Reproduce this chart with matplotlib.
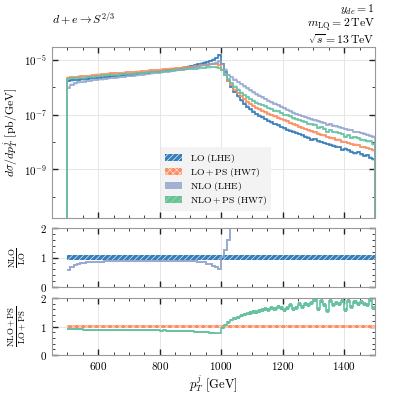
import numpy as np
import matplotlib
matplotlib.use("Agg")
import matplotlib.pyplot as plt
from matplotlib.patches import Patch
from matplotlib.ticker import MultipleLocator, FixedLocator, NullFormatter, LogFormatterMathtext

plt.rcParams.update({
    'font.family': 'serif',
    'font.serif': ['cmr10', 'DejaVu Serif'],
    'mathtext.fontset': 'cm',
    'axes.formatter.use_mathtext': True,
    'hatch.linewidth': 0.5,
})

# ---------------- data (log10 of dsigma/dpT in pb/GeV, 10 GeV bins) ----------------
bin_edges = np.arange(500, 1501, 10)

lo_lhe_log10 = [
    -5.76, -5.74, -5.73, -5.72, -5.71, -5.70, -5.68, -5.67, -5.66, -5.65,
    -5.64, -5.63, -5.62, -5.61, -5.60, -5.585, -5.57, -5.56, -5.55, -5.54,
    -5.53, -5.52, -5.51, -5.49, -5.48, -5.47, -5.46, -5.44, -5.43, -5.42,
    -5.40, -5.39, -5.37, -5.36, -5.34, -5.33, -5.31, -5.29, -5.27, -5.24,
    -5.22, -5.19, -5.16, -5.13, -5.10, -5.07, -5.03, -4.99, -4.93, -4.83,
    -5.15, -5.45, -5.75, -5.98, -6.17, -6.33, -6.48, -6.60, -6.71, -6.80,
    -6.89, -6.97, -7.04, -7.10, -7.16, -7.22, -7.28, -7.34, -7.39, -7.45,
    -7.50, -7.55, -7.58, -7.62, -7.66, -7.71, -7.75, -7.80, -7.84, -7.92,
    -7.90, -7.97, -8.00, -8.04, -8.07, -8.10, -8.14, -8.17, -8.18, -8.28,
    -8.24, -8.31, -8.35, -8.42, -8.37, -8.45, -8.50, -8.49, -8.58, -8.64]

lo_ps_log10 = [
    -5.64, -5.63, -5.62, -5.61, -5.60, -5.59, -5.58, -5.57, -5.56, -5.54,
    -5.53, -5.52, -5.51, -5.50, -5.49, -5.485, -5.48, -5.47, -5.46, -5.455,
    -5.45, -5.44, -5.43, -5.42, -5.41, -5.40, -5.39, -5.38, -5.37, -5.36,
    -5.35, -5.34, -5.33, -5.32, -5.31, -5.30, -5.29, -5.28, -5.26, -5.25,
    -5.24, -5.22, -5.21, -5.20, -5.18, -5.17, -5.16, -5.15, -5.15, -5.17,
    -5.35, -5.55, -5.75, -5.93, -6.08, -6.21, -6.33, -6.43, -6.52, -6.60,
    -6.67, -6.74, -6.80, -6.85, -6.91, -6.96, -7.01, -7.06, -7.11, -7.16,
    -7.21, -7.25, -7.30, -7.35, -7.39, -7.44, -7.48, -7.52, -7.57, -7.61,
    -7.65, -7.69, -7.73, -7.75, -7.82, -7.84, -7.87, -7.91, -7.92, -7.99,
    -8.00, -8.04, -8.07, -8.10, -8.11, -8.18, -8.19, -8.22, -8.26, -8.30]

nlo_lhe_log10 = [
    -6.01, -5.90, -5.85, -5.82, -5.80, -5.79, -5.76, -5.75, -5.73, -5.72,
    -5.71, -5.70, -5.68, -5.67, -5.66, -5.64, -5.63, -5.62, -5.61, -5.59,
    -5.58, -5.57, -5.56, -5.54, -5.53, -5.52, -5.51, -5.49, -5.48, -5.47,
    -5.45, -5.44, -5.42, -5.41, -5.39, -5.38, -5.36, -5.34, -5.32, -5.30,
    -5.28, -5.25, -5.23, -5.20, -5.18, -5.17, -5.14, -5.13, -5.10, -5.05,
    -5.14, -5.35, -5.55, -5.62, -5.72, -5.80, -5.88, -5.96, -6.04, -6.11,
    -6.18, -6.25, -6.31, -6.37, -6.43, -6.49, -6.55, -6.60, -6.66, -6.71,
    -6.77, -6.82, -6.88, -6.93, -6.97, -7.01, -7.05, -7.09, -7.13, -7.17,
    -7.21, -7.25, -7.28, -7.31, -7.36, -7.35, -7.40, -7.43, -7.46, -7.49,
    -7.52, -7.55, -7.56, -7.63, -7.64, -7.67, -7.70, -7.73, -7.77, -7.81]

nlo_ps_log10 = [
    -5.68, -5.67, -5.66, -5.65, -5.64, -5.64, -5.63, -5.62, -5.61, -5.59,
    -5.58, -5.57, -5.56, -5.55, -5.54, -5.54, -5.53, -5.52, -5.52, -5.51,
    -5.50, -5.50, -5.49, -5.48, -5.47, -5.46, -5.45, -5.44, -5.43, -5.42,
    -5.42, -5.40, -5.40, -5.39, -5.38, -5.37, -5.36, -5.36, -5.34, -5.33,
    -5.32, -5.31, -5.30, -5.29, -5.28, -5.27, -5.27, -5.26, -5.27, -5.29,
    -5.37, -5.53, -5.69, -5.84, -5.97, -6.09, -6.19, -6.28, -6.36, -6.43,
    -6.49, -6.56, -6.61, -6.65, -6.70, -6.76, -6.79, -6.85, -6.88, -6.94,
    -7.01, -7.03, -7.06, -7.14, -7.17, -7.19, -7.25, -7.27, -7.33, -7.35,
    -7.36, -7.48, -7.45, -7.51, -7.63, -7.56, -7.63, -7.65, -7.67, -7.71,
    -7.80, -7.76, -7.84, -7.83, -7.86, -7.91, -7.94, -7.98, -7.97, -8.08]

series_labels = ["LO (LHE)", "LO+PS (HW7)", "NLO (LHE)", "NLO+PS (HW7)"]
x_ticks = [600, 800, 1000, 1200, 1400]
ratio_ticks = [0, 1, 2]

# ---------------- style ----------------
C_LO = '#377eb8'
C_LOPS = '#fc8d62'
C_NLO = '#8da0cb'
C_NLOPS = '#66c2a5'
H_LO = '#e2eefa'
H_LOPS = '#ffe4d6'
H_NLOPS = '#b5dc5a'
LO_BAND = 0.07
NLOPS_BAND = 0.04

lo = 10.0 ** np.array(lo_lhe_log10)
lops = 10.0 ** np.array(lo_ps_log10)
nlo = 10.0 ** np.array(nlo_lhe_log10)
nlops = 10.0 ** np.array(nlo_ps_log10)

W, H, DPI = 3.95, 3.95, 100
fig = plt.figure(figsize=(W, H), dpi=DPI)

def frac(l, t, r, b):
    return [l / 395, 1 - b / 395, (r - l) / 395, (b - t) / 395]

ax = fig.add_axes(frac(52, 47, 375, 218))
ax1 = fig.add_axes(frac(52, 228, 375, 287), sharex=ax)
ax2 = fig.add_axes(frac(52, 298, 375, 355), sharex=ax)

ymin, ymax = 1.65e-11, 3.0e-5

# main panel bands (halo) + lines
for vals, col in [(lo, C_LO), (lops, C_LOPS), (nlo, C_NLO), (nlops, C_NLOPS)]:
    ax.stairs(vals * 1.12, bin_edges, baseline=vals / 1.12, fill=True,
              facecolor=col, alpha=0.3, linewidth=0)
for vals, col, lw, a in [(lo, C_LO, 1.2, 1.0), (lops, C_LOPS, 1.2, 1.0),
                         (nlo, C_NLO, 1.1, 0.9), (nlops, C_NLOPS, 1.2, 1.0)]:
    ax.stairs(vals, bin_edges, baseline=1e-14, color=col, lw=lw, alpha=a)

ax.set_yscale('log')
ax.set_ylim(ymin, ymax)
ax.set_xlim(450, 1500)
ax.yaxis.set_major_locator(FixedLocator([1e-5, 1e-7, 1e-9]))
ax.yaxis.set_minor_locator(FixedLocator([1e-6, 1e-8, 1e-10, 1e-11]))
ax.yaxis.set_major_formatter(LogFormatterMathtext())
ax.yaxis.set_minor_formatter(NullFormatter())
ax.set_ylabel(r'$d\sigma/dp_T^j\ [\mathrm{pb/GeV}]$', fontsize=8.5)
ax.yaxis.set_label_coords(-0.10, 0.5)

handles = [
    Patch(facecolor=C_LO, edgecolor=H_LO, hatch='//////', linewidth=0),
    Patch(facecolor=C_LOPS, edgecolor=H_LOPS, hatch='xxxxx', linewidth=0),
    Patch(facecolor=C_NLO, edgecolor=C_NLO, alpha=0.8, linewidth=0),
    Patch(facecolor=C_NLOPS, edgecolor=H_NLOPS, hatch='/////', linewidth=0),
]
labels = [r'$\mathrm{' + s.replace(' ', r'\ ') + '}$' for s in series_labels]
leg = ax.legend(handles, labels, loc='lower left', bbox_to_anchor=(0.322, 0.01),
                fontsize=7.0, frameon=True, fancybox=False, handlelength=1.7,
                handleheight=0.7, borderpad=0.45, labelspacing=0.12, handletextpad=0.8)
leg.get_frame().set_facecolor('#f3f3f3')
leg.get_frame().set_edgecolor('none')
leg.get_frame().set_alpha(1.0)

# ratio 1: NLO/LO
ax1.stairs(np.full(len(lo), 1 + LO_BAND), bin_edges, baseline=np.full(len(lo), 1 - LO_BAND),
           fill=True, facecolor=C_LO, edgecolor=H_LO, hatch='//////', linewidth=0)
ax1.stairs(nlo / lo, bin_edges, baseline=None, color=C_NLO, lw=1.4, alpha=0.9)
ax1.set_ylim(0, 2)
ax1.set_ylabel(r'$\frac{\mathrm{NLO}}{\mathrm{LO}}$', fontsize=9)
ax1.yaxis.set_label_coords(-0.075, 0.5)

# ratio 2: NLO+PS / LO+PS
r2 = nlops / lops
ax2.stairs(np.full(len(lops), 1 + LO_BAND), bin_edges, baseline=np.full(len(lops), 1 - LO_BAND),
           fill=True, facecolor=C_LOPS, edgecolor=H_LOPS, hatch='xxxxx', linewidth=0)
ax2.stairs(r2 * (1 + NLOPS_BAND), bin_edges, baseline=r2 * (1 - NLOPS_BAND), fill=True,
           facecolor=C_NLOPS, edgecolor=H_NLOPS, hatch='/////', linewidth=0)
ax2.stairs(r2, bin_edges, baseline=None, color=C_NLOPS, lw=1.2)
ax2.set_ylim(0, 2)
ax2.set_ylabel(r'$\frac{\mathrm{NLO+PS}}{\mathrm{LO+PS}}$', fontsize=9)
ax2.yaxis.set_label_coords(-0.075, 0.5)
ax2.set_xlabel(r'$p_T^j\ [\mathrm{GeV}]$', fontsize=9, labelpad=1)

for a in (ax1, ax2):
    a.yaxis.set_major_locator(FixedLocator(ratio_ticks))
    a.yaxis.set_minor_locator(MultipleLocator(0.2))

for a in (ax, ax1, ax2):
    a.xaxis.set_major_locator(FixedLocator(x_ticks))
    a.xaxis.set_minor_locator(MultipleLocator(50))
    a.tick_params(which='both', direction='in', top=True, right=True, labelsize=8,
                  color='#222222')
    a.tick_params(which='major', length=4, width=1.0)
    a.tick_params(which='minor', length=2, width=0.6)
    a.grid(True, which='major', color='#e6e6e6', lw=0.7, zorder=0)
    a.set_axisbelow(True)
    for s in a.spines.values():
        s.set_color('#999999')
        s.set_linewidth(0.8)
for a in (ax, ax1):
    plt.setp(a.get_xticklabels(), visible=False)

fig.text(52 / 395, 1 - 23 / 395, r'$d + e \rightarrow S^{2/3}$', fontsize=8.5,
         ha='left', va='baseline')
info_text = '\n'.join([r'$y_{de} = 1$',
                       r'$m_{\mathrm{LQ}} = 2\,\mathrm{TeV}$',
                       r'$\sqrt{s} = 13\,\mathrm{TeV}$'])
fig.text(375 / 395, 1 - 3 / 395, info_text, fontsize=8.5, ha='right', va='top',
         multialignment='right', linespacing=0.92)

fig.savefig('out.png', dpi=DPI)
